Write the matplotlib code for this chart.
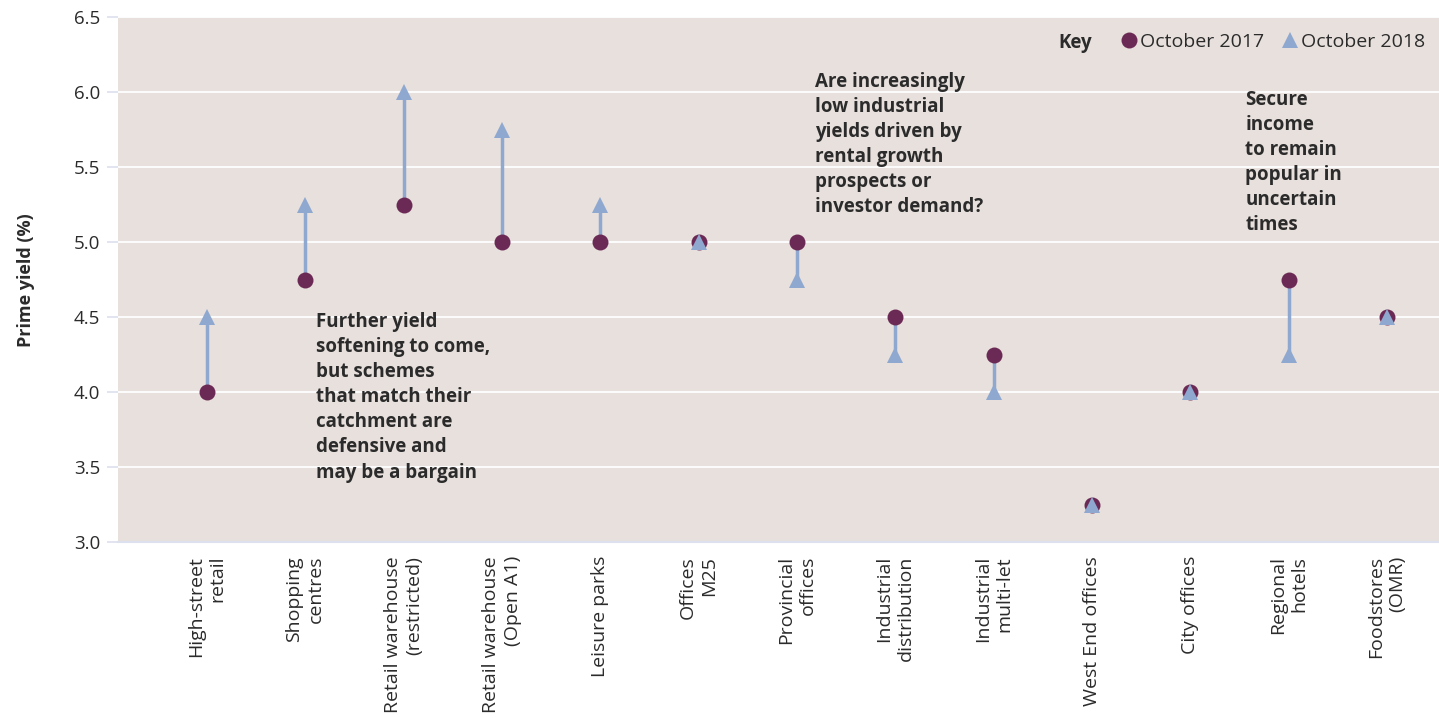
import matplotlib
matplotlib.use("Agg")
import matplotlib.pyplot as plt
from matplotlib.lines import Line2D

# Datos
categorias = ["High-street\nretail", "Shopping\ncentres", "Retail warehouse\n(restricted)",
              "Retail warehouse\n(Open A1)", "Leisure parks", "Offices\nM25",
              "Provincial\noffices", "Industrial\ndistribution", "Industrial\nmulti-let",
              "West End offices", "City offices", "Regional\nhotels", "Foodstores\n(OMR)"]
oct_2017 = [4.0, 4.75, 5.25, 5.0, 5.0, 5.0, 5.0, 4.5, 4.25, 3.25, 4.0, 4.75, 4.5]
oct_2018 = [4.5, 5.25, 6.0, 5.75, 5.25, 5.0, 4.75, 4.25, 4.0, 3.25, 4.0, 4.25, 4.5]
y_ticks = [3.0, 3.5, 4.0, 4.5, 5.0, 5.5, 6.0, 6.5]

# Colores
FONDO = "#e7e0dc"
PURPURA = "#6b2a55"
AZUL = "#8ea8cf"
TEXTO = "#2b2b2b"
EJE = "#dde0ee"

plt.rcParams["font.family"] = ["Open Sans", "DejaVu Sans"]

fig = plt.figure(figsize=(14.39, 7.18), dpi=100)
ax = fig.add_axes([0.082, 0.245, 0.918, 0.731])
ax.set_facecolor(FONDO)

x = list(range(len(categorias)))

# Líneas entre años
for xi, a, b in zip(x, oct_2017, oct_2018):
    ax.plot([xi, xi], [a, b], color=AZUL, lw=2.5, zorder=2, solid_capstyle="butt")

ax.plot(x, oct_2017, "o", color=PURPURA, markersize=11.5, zorder=3, markeredgewidth=0)
ax.plot(x, oct_2018, "^", color=AZUL, markersize=11, zorder=4, markeredgewidth=0)

ax.set_xlim(-0.905, 12.53)
ax.set_ylim(3.0, 6.5)
ax.set_yticks(y_ticks)
ax.set_yticklabels([f"{v:.1f}" for v in y_ticks], fontsize=13.5, color=TEXTO)
ax.grid(axis="y", color="white", lw=1.3)
ax.set_axisbelow(True)
ax.tick_params(axis="y", length=8, color=EJE, width=1.2, pad=5)

ax.set_xticks(x)
ax.set_xticklabels(categorias, rotation=90, fontsize=14, color=TEXTO,
                   ha="center", va="top", multialignment="right", linespacing=1.25)
ax.tick_params(axis="x", length=0, pad=10)

for lado in ["top", "right", "left"]:
    ax.spines[lado].set_visible(False)
ax.spines["bottom"].set_color(EJE)
ax.spines["bottom"].set_linewidth(1.5)

ax.set_ylabel("Prime yield (%)", fontsize=13, fontweight="bold", color=TEXTO, labelpad=28)

# Anotaciones
estilo = dict(fontsize=13.5, fontweight="bold", color=TEXTO, va="top", ha="left", linespacing=1.34)
ax.text(1.11, 4.535, "Further yield\nsoftening to come,\nbut schemes\nthat match their\n"
        "catchment are\ndefensive and\nmay be a bargain", **estilo)
ax.text(6.18, 6.135, "Are increasingly\nlow industrial\nyields driven by\nrental growth\n"
        "prospects or\ninvestor demand?", **estilo)
ax.text(10.56, 6.015, "Secure\nincome\nto remain\npopular in\nuncertain\ntimes", **estilo)

# Leyenda
handles = [Line2D([], [], marker="o", ls="", color=PURPURA, markersize=11.5, markeredgewidth=0),
           Line2D([], [], marker="^", ls="", color=AZUL, markersize=11, markeredgewidth=0)]
ax.legend(handles, ["October 2017", "October 2018"], ncol=2, frameon=False,
          loc="upper right", bbox_to_anchor=(1.003, 1.003), fontsize=14,
          handletextpad=0.1, columnspacing=0.8, handlelength=1.0, labelcolor=TEXTO)
ax.text(0.712, 0.951, "Key", transform=ax.transAxes, fontsize=13.5, fontweight="bold",
        color=TEXTO, va="center", ha="left")

fig.savefig("out.png", dpi=100)
